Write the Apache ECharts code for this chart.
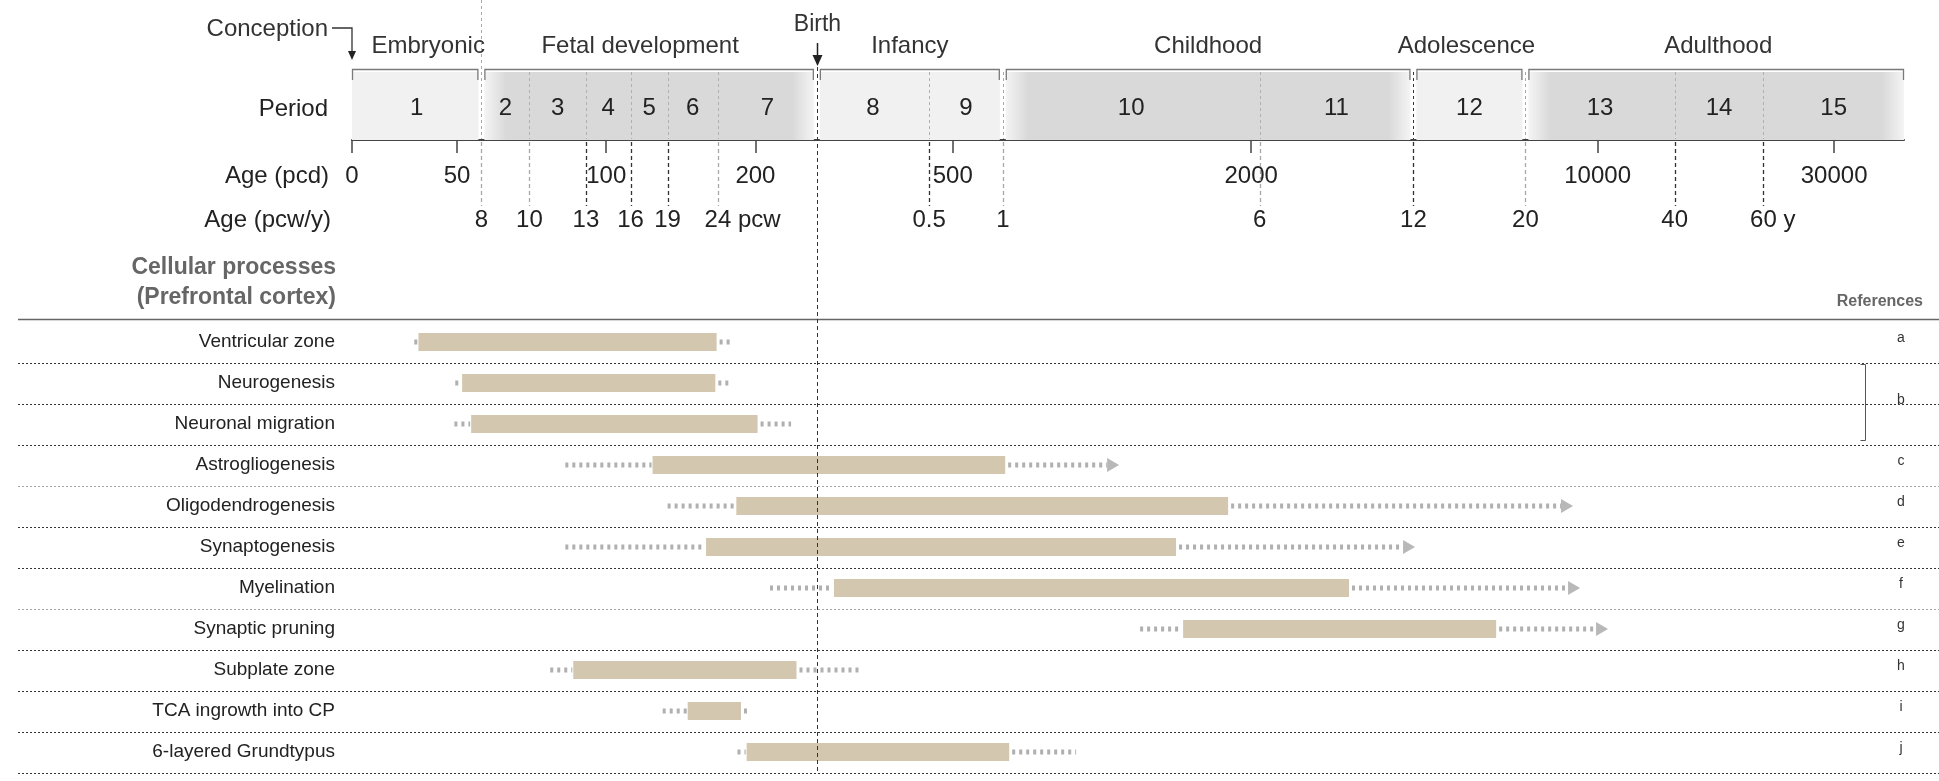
<!DOCTYPE html>
<html>
<head>
<meta charset="utf-8">
<title>Prefrontal cortex development timeline</title>
<script src="https://cdn.jsdelivr.net/npm/echarts@6.0.0/dist/echarts.min.js"></script>
<style>
html,body{margin:0;padding:0;background:#ffffff;}
#chart{width:1939px;height:781px;}
</style>
</head>
<body>
<div id="chart"></div>
<script>
// ---------------- data ----------------
const periodLabels = ['1','2','3','4','5','6','7','8','9','10','11','12','13','14','15'];
const periodBoundsPcd = [30.7, 56, 70, 91, 112, 133, 168, 266, 448, 631, 2080, 4250, 7150, 14300, 21600, 41500];
const stageNames = ['Embryonic','Fetal development','Infancy','Childhood','Adolescence','Adulthood'];
const stageFirstPeriod = [1, 2, 8, 10, 12, 13];
const stageLastPeriod  = [1, 7, 9, 11, 12, 15];
const pcdTickValues = [30.7, 50, 100, 200, 500, 2000, 10000, 30000];
const pcdTickLabels = ['0','50','100','200','500','2000','10000','30000'];
const pcwTickValues = [56, 70, 91, 112, 133, 168, 448, 631, 2080, 4250, 7150, 14300, 21600];
const pcwTickLabels = ['8','10','13','16','19','24','0.5','1','6','12','20','40','60'];
const pcwTickUnits  = ['','','','','','pcw','','','','','','','y'];
const conceptionPcd = 30.7;
const birthPcd = 266;

const processNames = ['Ventricular zone','Neurogenesis','Neuronal migration','Astrogliogenesis','Oligodendrogenesis','Synaptogenesis','Myelination','Synaptic pruning','Subplate zone','TCA ingrowth into CP','6-layered Grundtypus'];
const dashStartPcd = [41.0, 49.6, 49.4, 82.7, 133, 82.7, 214, 1194, 77.1, 130, 184];
const barStartPcd  = [41.8, 51.2, 53.4, 124, 183, 159, 288, 1458, 85.8, 146, 192];
const barEndPcd    = [167, 166, 202, 638, 1797, 1411, 3151, 6241, 242, 187, 650];
const dashEndPcd   = [178, 177, 236, 1083, 8920, 4282, 9215, 10495, 325, 193, 887];
const continuesBeyond = [false, false, false, true, true, true, true, true, false, false, false];
const referenceLetters = ['a','b','b','c','d','e','f','g','h','i','j'];

// ---------------- style / layout ----------------
const FONT = '"Liberation Sans", Arial, Helvetica, sans-serif';
const GRID_LEFT = 352, GRID_RIGHT = 35;
const X_MIN = periodBoundsPcd[0], X_MAX = periodBoundsPcd[periodBoundsPcd.length - 1];
const darkBelowIdx = new Set([2, 3, 4, 6, 9, 11, 12]);   // indices into pcwTickValues drawn dark under the bar
const lightSeparatorRows = new Set([3, 6]);
const stageLabelDx = [13, -9, 0, 0, -3, 2];
const stageBoundaryValues = stageFirstPeriod.slice(1).map(p => periodBoundsPcd[p - 1]);

function measure(txt, size) {
  const c = document.createElement('canvas').getContext('2d');
  c.font = size + 'px "Liberation Sans", Arial, sans-serif';
  return c.measureText(txt).width;
}
const padPcw = measure(' pcw', 24), padY = measure(' y', 24);

function findIdx(arr, v) {
  let best = 0, bd = Infinity;
  arr.forEach((a, i) => { const d = Math.abs(Math.log(a / v)); if (d < bd) { bd = d; best = i; } });
  return best;
}

// ---------------- renderers ----------------
function renderStage(params, api) {
  const k = params.dataIndex;
  const pL = api.coord([api.value(0), 1]);
  const pR = api.coord([api.value(1), 0]);
  const first = k === 0, last = k === stageNames.length - 1;
  const x0 = pL[0] + (first ? 0 : 3), x1 = pR[0] - (last ? 0 : 3);
  const yTop = pL[1], yBot = pR[1];
  const w = x1 - x0;
  const dark = k % 2 === 1;
  const f = Math.min(0.25, 22 / w);
  const fill = dark ? new echarts.graphic.LinearGradient(0, 0, 1, 0, [
    {offset: 0, color: '#f4f4f4'}, {offset: f, color: '#d9d9d9'},
    {offset: 1 - f, color: '#d9d9d9'}, {offset: 1, color: '#f4f4f4'}]) : '#f1f1f1';
  return {type: 'group', children: [
    {type: 'rect', shape: {x: x0, y: yTop + 3, width: w, height: yBot - yTop - 3}, style: {fill: fill}},
    {type: 'polyline', shape: {points: [[x0 + 0.5, yTop + 11], [x0 + 0.5, yTop + 0.5], [x1 - 0.5, yTop + 0.5], [x1 - 0.5, yTop + 11]]},
     style: {stroke: '#7a7a7a', lineWidth: 1.3, fill: null}},
    {type: 'text', style: {text: stageNames[k], x: (x0 + x1) / 2 + stageLabelDx[k], y: yTop - 23,
      align: 'center', verticalAlign: 'middle', fontSize: 24, fontFamily: FONT, fill: '#333'}}
  ]};
}

function renderPeriodCell(params, api) {
  const i = params.dataIndex;
  const a = api.coord([api.value(0), 1]);
  const b = api.coord([api.value(1), 0]);
  return {type: 'text', style: {text: periodLabels[i], x: (a[0] + b[0]) / 2, y: (a[1] + 3 + b[1]) / 2 + 2,
    align: 'center', verticalAlign: 'middle', fontSize: 24, fontFamily: FONT, fill: '#222'}};
}

function renderBoundary(params, api) {
  const v = api.value(0);
  if (v === birthPcd) return null;
  const x = Math.round(api.coord([v, 0])[0]) + 0.5;
  const yTop = api.coord([v, 1])[1], yBot = api.coord([v, 0])[1];
  const ti = findIdx(pcwTickValues, v);
  const isGap = stageBoundaryValues.indexOf(v) >= 0;
  const below = darkBelowIdx.has(ti) ? '#333' : '#a8a8a8';
  const ch = [
    {type: 'line', shape: {x1: x, y1: yTop + 3, x2: x, y2: yBot - 1},
     style: {stroke: isGap ? below : '#b0b0b0', lineWidth: 1, lineDash: [3, 3]}},
    {type: 'line', shape: {x1: x, y1: yBot + 2, x2: x, y2: yBot + 66},
     style: {stroke: below, lineWidth: 1.3, lineDash: [4, 3]}}
  ];
  if (ti === 0) ch.push({type: 'line', shape: {x1: x, y1: 0, x2: x, y2: yTop}, style: {stroke: '#aaa', lineWidth: 1, lineDash: [3, 3]}});
  return {type: 'group', children: ch};
}

function renderMarkers(params, api) {
  const xc = api.coord([api.value(0), 1])[0];
  const xb = Math.round(api.coord([api.value(1), 1])[0]) + 0.5;
  return {type: 'group', children: [
    {type: 'text', style: {text: 'Conception', x: xc - 24, y: 29, align: 'right', verticalAlign: 'middle', fontSize: 24, fontFamily: FONT, fill: '#333'}},
    {type: 'polyline', shape: {points: [[xc - 20, 28], [xc, 28], [xc, 52]]}, style: {stroke: '#333', lineWidth: 1.3, fill: null}},
    {type: 'polygon', shape: {points: [[xc - 4, 51], [xc + 4, 51], [xc, 60]]}, style: {fill: '#222'}},
    {type: 'text', style: {text: 'Birth', x: xb, y: 25, align: 'center', verticalAlign: 'middle', fontSize: 23, fontFamily: FONT, fill: '#333'}},
    {type: 'line', shape: {x1: xb, y1: 43, x2: xb, y2: 57}, style: {stroke: '#222', lineWidth: 1.5}},
    {type: 'polygon', shape: {points: [[xb - 5, 55], [xb + 5, 55], [xb, 66]]}, style: {fill: '#222'}},
    {type: 'line', shape: {x1: xb, y1: 67, x2: xb, y2: 773}, style: {stroke: '#333', lineWidth: 1, lineDash: [4, 3]}}
  ]};
}

function dotted() { return {stroke: '#b0b0b0', lineWidth: 5, lineDash: [3, 4]}; }

function renderProcess(params, api) {
  const row = api.value(0);
  const yC = api.coord([X_MIN, row])[1];
  const xDs = api.coord([api.value(1), row])[0];
  const xBs = api.coord([api.value(2), row])[0];
  const xBe = api.coord([api.value(3), row])[0];
  const xDe = api.coord([api.value(4), row])[0];
  const arrow = api.value(5) === 1;
  const barH = 18;
  const ch = [];
  if (xBs - xDs > 1) ch.push({type: 'line', shape: {x1: xDs, y1: yC, x2: xBs - 1, y2: yC}, style: dotted()});
  const postEnd = arrow ? xDe - 12 : xDe;
  if (postEnd - xBe > 2) ch.push({type: 'line', shape: {x1: xBe + 3, y1: yC, x2: postEnd, y2: yC}, style: dotted()});
  ch.push({type: 'rect', shape: {x: xBs, y: yC - barH / 2, width: xBe - xBs, height: barH}, style: {fill: '#d4c7af'}});
  if (arrow) ch.push({type: 'polygon', shape: {points: [[xDe - 12, yC - 7], [xDe, yC], [xDe - 12, yC + 7]]}, style: {fill: '#b8b8b8'}});
  return {type: 'group', children: ch};
}

function renderSeparator(params, api) {
  const row = api.value(1);
  const yC = api.coord([X_MIN, row])[1];
  const band = api.size([0, 1])[1];
  const y = Math.round(yC + band / 2) + 0.5;
  return {type: 'line', shape: {x1: 18, y1: y, x2: api.getWidth(), y2: y},
    style: {stroke: lightSeparatorRows.has(row) ? '#a8a8a8' : '#333', lineWidth: 1, lineDash: [2, 2]}};
}

function renderReference(params, api) {
  const i = api.value(1);
  const letter = referenceLetters[i];
  if (i > 0 && referenceLetters[i - 1] === letter) return null;
  let j = i;
  while (j + 1 < referenceLetters.length && referenceLetters[j + 1] === letter) j++;
  const y0 = api.coord([X_MIN, i])[1], y1 = api.coord([X_MIN, j])[1];
  const band = api.size([0, 1])[1];
  const x = api.getWidth() - 38;
  const ch = [{type: 'text', style: {text: letter, x: x, y: (y0 + y1) / 2 - (j > i ? 3 : 4), align: 'center', verticalAlign: 'middle',
    fontSize: 14, fontFamily: FONT, fill: '#333'}}];
  if (j > i) {
    const xb = x - 35.5, top = Math.round(y0 - band / 2) + 1.5, bot = Math.round(y1 + band / 2) - 4.5;
    ch.push({type: 'polyline', shape: {points: [[xb - 5, top], [xb, top], [xb, bot], [xb - 5, bot]]}, style: {stroke: '#555', lineWidth: 1, fill: null}});
  }
  return {type: 'group', children: ch};
}

// ---------------- option ----------------
const chart = echarts.init(document.getElementById('chart'), null, {renderer: 'canvas'});
const txt = (t, x, y, align, size, weight, color) => ({type: 'text', x: x, y: y, silent: true,
  style: {text: t, align: align, verticalAlign: 'middle', fontSize: size, fontWeight: weight, fontFamily: FONT, fill: color}});

const option = {
  animation: false,
  backgroundColor: '#ffffff',
  textStyle: {fontFamily: FONT},
  grid: [
    {left: GRID_LEFT, right: GRID_RIGHT, top: 69, height: 71, containLabel: false, outerBoundsMode: 'none'},
    {left: GRID_LEFT, right: GRID_RIGHT, top: 321.5, height: 451, containLabel: false, outerBoundsMode: 'none'}
  ],
  xAxis: [
    {gridIndex: 0, type: 'log', min: X_MIN, max: X_MAX, position: 'bottom',
     axisLine: {show: true, lineStyle: {color: '#444', width: 2}},
     axisTick: {show: true, length: 13, customValues: pcdTickValues, lineStyle: {color: '#444', width: 1.5}},
     minorTick: {show: false}, splitLine: {show: false},
     axisLabel: {show: true, customValues: pcdTickValues, margin: 24, fontSize: 24, color: '#222', fontFamily: FONT,
       formatter: v => pcdTickLabels[findIdx(pcdTickValues, v)]}},
    {gridIndex: 0, type: 'log', min: X_MIN, max: X_MAX, position: 'bottom', offset: 0,
     axisLine: {show: false}, axisTick: {show: false}, minorTick: {show: false}, splitLine: {show: false},
     axisLabel: {show: true, customValues: pcwTickValues, margin: 68, fontSize: 24, color: '#222', fontFamily: FONT,
       formatter: v => {
         const i = findIdx(pcwTickValues, v);
         const u = pcwTickUnits[i];
         if (!u) return pcwTickLabels[i];
         return (u === 'pcw' ? '{n1|' : '{n2|') + pcwTickLabels[i] + '}{u| ' + u + '}';
       },
       rich: {
         n1: {padding: [0, 0, 0, padPcw], fontSize: 24, color: '#222', fontFamily: FONT},
         n2: {padding: [0, 0, 0, padY], fontSize: 24, color: '#222', fontFamily: FONT},
         u: {fontSize: 24, color: '#222', fontFamily: FONT}
       }}},
    {gridIndex: 1, type: 'log', min: X_MIN, max: X_MAX, show: false}
  ],
  yAxis: [
    {gridIndex: 0, type: 'value', min: 0, max: 1, show: false},
    {gridIndex: 1, type: 'category', data: processNames, inverse: true,
     axisLine: {show: false}, axisTick: {show: false}, splitLine: {show: false},
     axisLabel: {margin: 17, fontSize: 19, color: '#222', fontFamily: FONT}}
  ],
  graphic: [
    txt('Period', 328, 109, 'right', 24, 'normal', '#222'),
    txt('Age (pcd)', 329, 176, 'right', 24, 'normal', '#222'),
    txt('Age (pcw/y)', 331, 220, 'right', 24, 'normal', '#222'),
    txt('Cellular processes', 336, 268, 'right', 23, 'bold', '#666'),
    txt('(Prefrontal cortex)', 336, 298, 'right', 23, 'bold', '#666'),
    txt('References', 1923, 302, 'right', 16, 'bold', '#666'),
    {type: 'line', silent: true, shape: {x1: 18, y1: 319.5, x2: 1939, y2: 319.5}, style: {stroke: '#666', lineWidth: 1.5}}
  ],
  series: [
    {type: 'custom', name: 'stages', xAxisIndex: 0, yAxisIndex: 0, clip: false, silent: true, z: 1,
     encode: {x: [0, 1], y: 2},
     data: stageNames.map((n, k) => [periodBoundsPcd[stageFirstPeriod[k] - 1], periodBoundsPcd[stageLastPeriod[k]], 0]),
     renderItem: renderStage},
    {type: 'custom', name: 'periodBoundaries', xAxisIndex: 0, yAxisIndex: 0, clip: false, silent: true, z: 2,
     encode: {x: 0, y: 1},
     data: periodBoundsPcd.slice(1, -1).map(v => [v, 0]),
     renderItem: renderBoundary},
    {type: 'custom', name: 'periods', xAxisIndex: 0, yAxisIndex: 0, clip: false, silent: true, z: 3,
     encode: {x: [0, 1], y: 2},
     data: periodLabels.map((p, i) => [periodBoundsPcd[i], periodBoundsPcd[i + 1], 0]),
     renderItem: renderPeriodCell},
    {type: 'custom', name: 'separators', xAxisIndex: 2, yAxisIndex: 1, clip: false, silent: true, z: 1,
     encode: {x: 0, y: 1},
     data: processNames.map((n, i) => [X_MIN, i]),
     renderItem: renderSeparator},
    {type: 'custom', name: 'processes', xAxisIndex: 2, yAxisIndex: 1, clip: false, silent: true, z: 2,
     encode: {y: 0, x: [1, 2, 3, 4]},
     data: processNames.map((n, i) => [i, dashStartPcd[i], barStartPcd[i], barEndPcd[i], dashEndPcd[i], continuesBeyond[i] ? 1 : 0]),
     renderItem: renderProcess},
    {type: 'custom', name: 'references', xAxisIndex: 2, yAxisIndex: 1, clip: false, silent: true, z: 2,
     encode: {x: 0, y: 1},
     data: processNames.map((n, i) => [X_MIN, i]),
     renderItem: renderReference},
    {type: 'custom', name: 'markers', xAxisIndex: 0, yAxisIndex: 0, clip: false, silent: true, z: 10,
     encode: {x: [0, 1], y: 2},
     data: [[conceptionPcd, birthPcd, 0]],
     renderItem: renderMarkers}
  ]
};
chart.setOption(option);
</script>
</body>
</html>
